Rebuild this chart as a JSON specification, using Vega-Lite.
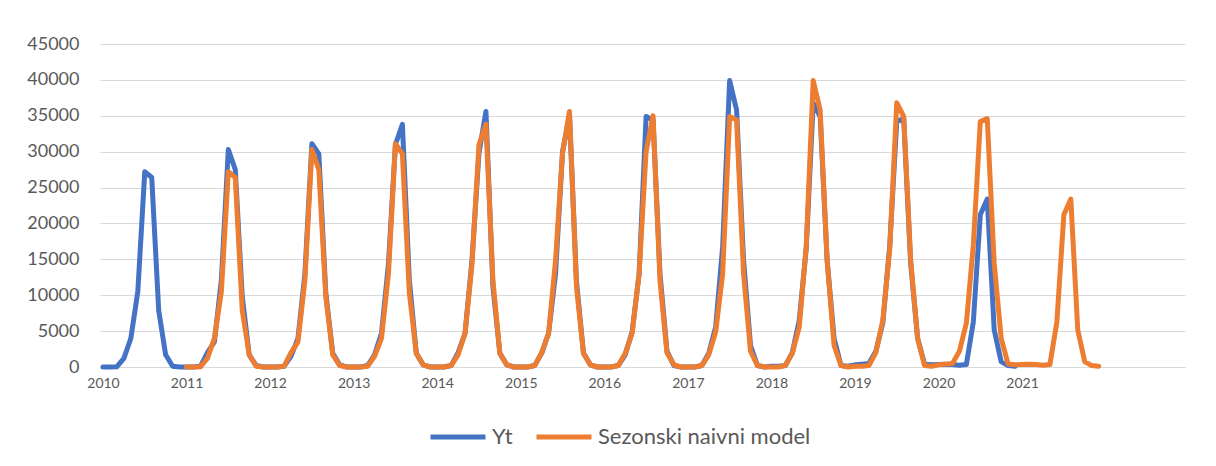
{
  "$schema": "https://vega.github.io/schema/vega-lite/v6.json",
  "width": 1085,
  "height": 323,
  "autosize": {"type": "none"},
  "padding": {"left": 100, "top": 44, "right": 31, "bottom": 99},
  "background": "white",
  "config": {"view": {"stroke": null}, "font": "Lato"},
  "datasets": {
    "d": [
      {"m":0,"s":"Yt","v":0},{"m":1,"s":"Yt","v":0},{"m":2,"s":"Yt","v":50},{"m":3,"s":"Yt","v":1200},{"m":4,"s":"Yt","v":4000},{"m":5,"s":"Yt","v":10500},{"m":6,"s":"Yt","v":27200},{"m":7,"s":"Yt","v":26400},{"m":8,"s":"Yt","v":7900},{"m":9,"s":"Yt","v":1700},{"m":10,"s":"Yt","v":100},{"m":11,"s":"Yt","v":0},
      {"m":12,"s":"Yt","v":0},{"m":13,"s":"Yt","v":0},{"m":14,"s":"Yt","v":100},{"m":15,"s":"Yt","v":2000},{"m":16,"s":"Yt","v":3500},{"m":17,"s":"Yt","v":12100},{"m":18,"s":"Yt","v":30300},{"m":19,"s":"Yt","v":27500},{"m":20,"s":"Yt","v":9800},{"m":21,"s":"Yt","v":1700},{"m":22,"s":"Yt","v":200},{"m":23,"s":"Yt","v":0},
      {"m":24,"s":"Yt","v":0},{"m":25,"s":"Yt","v":0},{"m":26,"s":"Yt","v":100},{"m":27,"s":"Yt","v":1500},{"m":28,"s":"Yt","v":4000},{"m":29,"s":"Yt","v":13000},{"m":30,"s":"Yt","v":31100},{"m":31,"s":"Yt","v":29700},{"m":32,"s":"Yt","v":10300},{"m":33,"s":"Yt","v":1900},{"m":34,"s":"Yt","v":300},{"m":35,"s":"Yt","v":0},
      {"m":36,"s":"Yt","v":0},{"m":37,"s":"Yt","v":0},{"m":38,"s":"Yt","v":200},{"m":39,"s":"Yt","v":1700},{"m":40,"s":"Yt","v":4700},{"m":41,"s":"Yt","v":14400},{"m":42,"s":"Yt","v":31000},{"m":43,"s":"Yt","v":33800},{"m":44,"s":"Yt","v":12100},{"m":45,"s":"Yt","v":1900},{"m":46,"s":"Yt","v":300},{"m":47,"s":"Yt","v":0},
      {"m":48,"s":"Yt","v":0},{"m":49,"s":"Yt","v":0},{"m":50,"s":"Yt","v":200},{"m":51,"s":"Yt","v":2000},{"m":52,"s":"Yt","v":4700},{"m":53,"s":"Yt","v":14900},{"m":54,"s":"Yt","v":29800},{"m":55,"s":"Yt","v":35600},{"m":56,"s":"Yt","v":11200},{"m":57,"s":"Yt","v":1900},{"m":58,"s":"Yt","v":300},{"m":59,"s":"Yt","v":0},
      {"m":60,"s":"Yt","v":0},{"m":61,"s":"Yt","v":0},{"m":62,"s":"Yt","v":200},{"m":63,"s":"Yt","v":1900},{"m":64,"s":"Yt","v":4700},{"m":65,"s":"Yt","v":13000},{"m":66,"s":"Yt","v":30000},{"m":67,"s":"Yt","v":35000},{"m":68,"s":"Yt","v":12000},{"m":69,"s":"Yt","v":2000},{"m":70,"s":"Yt","v":300},{"m":71,"s":"Yt","v":0},
      {"m":72,"s":"Yt","v":0},{"m":73,"s":"Yt","v":0},{"m":74,"s":"Yt","v":200},{"m":75,"s":"Yt","v":1700},{"m":76,"s":"Yt","v":4900},{"m":77,"s":"Yt","v":13000},{"m":78,"s":"Yt","v":34900},{"m":79,"s":"Yt","v":34400},{"m":80,"s":"Yt","v":13000},{"m":81,"s":"Yt","v":2200},{"m":82,"s":"Yt","v":200},{"m":83,"s":"Yt","v":0},
      {"m":84,"s":"Yt","v":0},{"m":85,"s":"Yt","v":0},{"m":86,"s":"Yt","v":200},{"m":87,"s":"Yt","v":1900},{"m":88,"s":"Yt","v":5600},{"m":89,"s":"Yt","v":16800},{"m":90,"s":"Yt","v":39900},{"m":91,"s":"Yt","v":35800},{"m":92,"s":"Yt","v":14900},{"m":93,"s":"Yt","v":3000},{"m":94,"s":"Yt","v":200},{"m":95,"s":"Yt","v":0},
      {"m":96,"s":"Yt","v":100},{"m":97,"s":"Yt","v":100},{"m":98,"s":"Yt","v":200},{"m":99,"s":"Yt","v":2000},{"m":100,"s":"Yt","v":6500},{"m":101,"s":"Yt","v":16500},{"m":102,"s":"Yt","v":36800},{"m":103,"s":"Yt","v":34900},{"m":104,"s":"Yt","v":14900},{"m":105,"s":"Yt","v":4000},{"m":106,"s":"Yt","v":200},{"m":107,"s":"Yt","v":100},
      {"m":108,"s":"Yt","v":300},{"m":109,"s":"Yt","v":400},{"m":110,"s":"Yt","v":500},{"m":111,"s":"Yt","v":2200},{"m":112,"s":"Yt","v":6100},{"m":113,"s":"Yt","v":17000},{"m":114,"s":"Yt","v":34200},{"m":115,"s":"Yt","v":34600},{"m":116,"s":"Yt","v":14400},{"m":117,"s":"Yt","v":4000},{"m":118,"s":"Yt","v":400},{"m":119,"s":"Yt","v":300},
      {"m":120,"s":"Yt","v":350},{"m":121,"s":"Yt","v":400},{"m":122,"s":"Yt","v":350},{"m":123,"s":"Yt","v":250},{"m":124,"s":"Yt","v":350},{"m":125,"s":"Yt","v":6300},{"m":126,"s":"Yt","v":21200},{"m":127,"s":"Yt","v":23400},{"m":128,"s":"Yt","v":5150},{"m":129,"s":"Yt","v":750},{"m":130,"s":"Yt","v":200},{"m":131,"s":"Yt","v":100},
      {"m":12,"s":"Sezonski naivni model","v":0},{"m":13,"s":"Sezonski naivni model","v":0},{"m":14,"s":"Sezonski naivni model","v":50},{"m":15,"s":"Sezonski naivni model","v":1200},{"m":16,"s":"Sezonski naivni model","v":4000},{"m":17,"s":"Sezonski naivni model","v":10500},{"m":18,"s":"Sezonski naivni model","v":27200},{"m":19,"s":"Sezonski naivni model","v":26400},{"m":20,"s":"Sezonski naivni model","v":7900},{"m":21,"s":"Sezonski naivni model","v":1700},{"m":22,"s":"Sezonski naivni model","v":100},{"m":23,"s":"Sezonski naivni model","v":0},
      {"m":24,"s":"Sezonski naivni model","v":0},{"m":25,"s":"Sezonski naivni model","v":0},{"m":26,"s":"Sezonski naivni model","v":100},{"m":27,"s":"Sezonski naivni model","v":2000},{"m":28,"s":"Sezonski naivni model","v":3500},{"m":29,"s":"Sezonski naivni model","v":12100},{"m":30,"s":"Sezonski naivni model","v":30300},{"m":31,"s":"Sezonski naivni model","v":27500},{"m":32,"s":"Sezonski naivni model","v":9800},{"m":33,"s":"Sezonski naivni model","v":1700},{"m":34,"s":"Sezonski naivni model","v":200},{"m":35,"s":"Sezonski naivni model","v":0},
      {"m":36,"s":"Sezonski naivni model","v":0},{"m":37,"s":"Sezonski naivni model","v":0},{"m":38,"s":"Sezonski naivni model","v":100},{"m":39,"s":"Sezonski naivni model","v":1500},{"m":40,"s":"Sezonski naivni model","v":4000},{"m":41,"s":"Sezonski naivni model","v":13000},{"m":42,"s":"Sezonski naivni model","v":31100},{"m":43,"s":"Sezonski naivni model","v":29700},{"m":44,"s":"Sezonski naivni model","v":10300},{"m":45,"s":"Sezonski naivni model","v":1900},{"m":46,"s":"Sezonski naivni model","v":300},{"m":47,"s":"Sezonski naivni model","v":0},
      {"m":48,"s":"Sezonski naivni model","v":0},{"m":49,"s":"Sezonski naivni model","v":0},{"m":50,"s":"Sezonski naivni model","v":200},{"m":51,"s":"Sezonski naivni model","v":1700},{"m":52,"s":"Sezonski naivni model","v":4700},{"m":53,"s":"Sezonski naivni model","v":14400},{"m":54,"s":"Sezonski naivni model","v":31000},{"m":55,"s":"Sezonski naivni model","v":33800},{"m":56,"s":"Sezonski naivni model","v":12100},{"m":57,"s":"Sezonski naivni model","v":1900},{"m":58,"s":"Sezonski naivni model","v":300},{"m":59,"s":"Sezonski naivni model","v":0},
      {"m":60,"s":"Sezonski naivni model","v":0},{"m":61,"s":"Sezonski naivni model","v":0},{"m":62,"s":"Sezonski naivni model","v":200},{"m":63,"s":"Sezonski naivni model","v":2000},{"m":64,"s":"Sezonski naivni model","v":4700},{"m":65,"s":"Sezonski naivni model","v":14900},{"m":66,"s":"Sezonski naivni model","v":29800},{"m":67,"s":"Sezonski naivni model","v":35600},{"m":68,"s":"Sezonski naivni model","v":11200},{"m":69,"s":"Sezonski naivni model","v":1900},{"m":70,"s":"Sezonski naivni model","v":300},{"m":71,"s":"Sezonski naivni model","v":0},
      {"m":72,"s":"Sezonski naivni model","v":0},{"m":73,"s":"Sezonski naivni model","v":0},{"m":74,"s":"Sezonski naivni model","v":200},{"m":75,"s":"Sezonski naivni model","v":1900},{"m":76,"s":"Sezonski naivni model","v":4700},{"m":77,"s":"Sezonski naivni model","v":13000},{"m":78,"s":"Sezonski naivni model","v":30000},{"m":79,"s":"Sezonski naivni model","v":35000},{"m":80,"s":"Sezonski naivni model","v":12000},{"m":81,"s":"Sezonski naivni model","v":2000},{"m":82,"s":"Sezonski naivni model","v":300},{"m":83,"s":"Sezonski naivni model","v":0},
      {"m":84,"s":"Sezonski naivni model","v":0},{"m":85,"s":"Sezonski naivni model","v":0},{"m":86,"s":"Sezonski naivni model","v":200},{"m":87,"s":"Sezonski naivni model","v":1700},{"m":88,"s":"Sezonski naivni model","v":4900},{"m":89,"s":"Sezonski naivni model","v":13000},{"m":90,"s":"Sezonski naivni model","v":34900},{"m":91,"s":"Sezonski naivni model","v":34400},{"m":92,"s":"Sezonski naivni model","v":13000},{"m":93,"s":"Sezonski naivni model","v":2200},{"m":94,"s":"Sezonski naivni model","v":200},{"m":95,"s":"Sezonski naivni model","v":0},
      {"m":96,"s":"Sezonski naivni model","v":0},{"m":97,"s":"Sezonski naivni model","v":0},{"m":98,"s":"Sezonski naivni model","v":200},{"m":99,"s":"Sezonski naivni model","v":1900},{"m":100,"s":"Sezonski naivni model","v":5600},{"m":101,"s":"Sezonski naivni model","v":16800},{"m":102,"s":"Sezonski naivni model","v":39900},{"m":103,"s":"Sezonski naivni model","v":35800},{"m":104,"s":"Sezonski naivni model","v":14900},{"m":105,"s":"Sezonski naivni model","v":3000},{"m":106,"s":"Sezonski naivni model","v":200},{"m":107,"s":"Sezonski naivni model","v":0},
      {"m":108,"s":"Sezonski naivni model","v":100},{"m":109,"s":"Sezonski naivni model","v":100},{"m":110,"s":"Sezonski naivni model","v":200},{"m":111,"s":"Sezonski naivni model","v":2000},{"m":112,"s":"Sezonski naivni model","v":6500},{"m":113,"s":"Sezonski naivni model","v":16500},{"m":114,"s":"Sezonski naivni model","v":36800},{"m":115,"s":"Sezonski naivni model","v":34900},{"m":116,"s":"Sezonski naivni model","v":14900},{"m":117,"s":"Sezonski naivni model","v":4000},{"m":118,"s":"Sezonski naivni model","v":200},{"m":119,"s":"Sezonski naivni model","v":100},
      {"m":120,"s":"Sezonski naivni model","v":300},{"m":121,"s":"Sezonski naivni model","v":400},{"m":122,"s":"Sezonski naivni model","v":500},{"m":123,"s":"Sezonski naivni model","v":2200},{"m":124,"s":"Sezonski naivni model","v":6100},{"m":125,"s":"Sezonski naivni model","v":17000},{"m":126,"s":"Sezonski naivni model","v":34200},{"m":127,"s":"Sezonski naivni model","v":34600},{"m":128,"s":"Sezonski naivni model","v":14400},{"m":129,"s":"Sezonski naivni model","v":4000},{"m":130,"s":"Sezonski naivni model","v":400},{"m":131,"s":"Sezonski naivni model","v":300},
      {"m":132,"s":"Sezonski naivni model","v":350},{"m":133,"s":"Sezonski naivni model","v":400},{"m":134,"s":"Sezonski naivni model","v":350},{"m":135,"s":"Sezonski naivni model","v":250},{"m":136,"s":"Sezonski naivni model","v":350},{"m":137,"s":"Sezonski naivni model","v":6300},{"m":138,"s":"Sezonski naivni model","v":21200},{"m":139,"s":"Sezonski naivni model","v":23400},{"m":140,"s":"Sezonski naivni model","v":5150},{"m":141,"s":"Sezonski naivni model","v":750},{"m":142,"s":"Sezonski naivni model","v":200},{"m":143,"s":"Sezonski naivni model","v":100}
    ]
  },
  "data": {"name": "d"},
  "encoding": {
    "x": {
      "field": "m", "type": "quantitative",
      "scale": {"domain": [-0.43, 155.4], "nice": false, "zero": false},
      "axis": {
        "title": null, "values": [0, 12, 24, 36, 48, 60, 72, 84, 96, 108, 120, 132],
        "labelExpr": "2010 + round(datum.value / 12)",
        "grid": false, "ticks": false, "domainColor": "#D9D9D9", "domainWidth": 1,
        "labelFontSize": 14, "labelColor": "#595959", "labelPadding": 9,
        "labelFlush": false, "labelOverlap": false
      }
    },
    "y": {
      "field": "v", "type": "quantitative",
      "scale": {"domain": [0, 45000], "nice": false},
      "axis": {
        "title": null, "values": [0, 5000, 10000, 15000, 20000, 25000, 30000, 35000, 40000, 45000],
        "format": "d", "domain": false, "ticks": false,
        "gridColor": "#D9D9D9", "gridWidth": 1,
        "labelFontSize": 18, "labelColor": "#595959", "labelPadding": 21
      }
    },
    "color": {
      "field": "s", "type": "nominal",
      "scale": {"domain": ["Yt", "Sezonski naivni model"], "range": ["#4472C4", "#ED7D31"]},
      "legend": {
        "title": null, "orient": "none", "legendX": 328, "legendY": 363,
        "direction": "horizontal", "symbolType": "stroke", "symbolSize": 3025,
        "symbolStrokeWidth": 5, "labelFontSize": 22, "labelColor": "#595959",
        "labelOffset": 4, "columnPadding": 13, "padding": 0, "labelLimit": 0
      }
    }
  },
  "layer": [
    {"transform": [{"filter": "datum.s === 'Yt'"}], "mark": {"type": "line", "strokeWidth": 5, "strokeCap": "round", "strokeJoin": "round"}},
    {"transform": [{"filter": "datum.s !== 'Yt'"}], "mark": {"type": "line", "strokeWidth": 5, "strokeCap": "round", "strokeJoin": "round"}}
  ]
}
